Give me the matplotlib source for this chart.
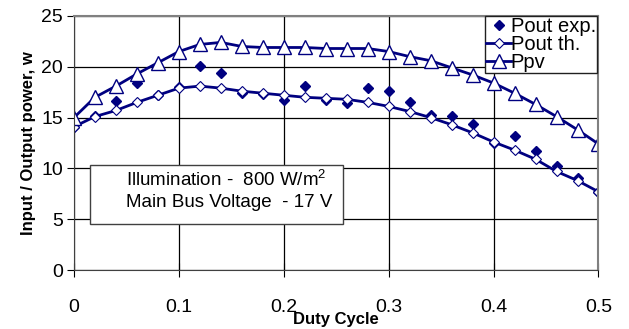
import matplotlib
matplotlib.use('Agg')
import matplotlib.pyplot as plt
from matplotlib.patches import Rectangle

plt.rcParams['font.family'] = ['Liberation Sans', 'DejaVu Sans']
plt.rcParams['mathtext.default'] = 'regular'

duty = [0.00, 0.02, 0.04, 0.06, 0.08, 0.10, 0.12, 0.14, 0.16, 0.18, 0.20, 0.22, 0.24,
        0.26, 0.28, 0.30, 0.32, 0.34, 0.36, 0.38, 0.40, 0.42, 0.44, 0.46, 0.48, 0.50]
pout_exp = [14.1, 15.2, 16.6, 18.4, 17.2, 18.0, 20.1, 19.4, 17.4, 17.3, 16.7, 18.1, 16.7,
            16.4, 17.9, 17.6, 16.5, 15.3, 15.2, 14.4, 12.5, 13.2, 11.7, 10.2, 9.1, 7.7]
pout_th = [14.1, 15.1, 15.7, 16.5, 17.2, 17.9, 18.1, 17.9, 17.6, 17.4, 17.2, 17.0, 16.9,
           16.8, 16.5, 16.1, 15.6, 15.0, 14.3, 13.5, 12.6, 11.8, 10.9, 9.7, 8.8, 7.7]
ppv = [15.0, 17.0, 18.1, 19.3, 20.4, 21.5, 22.2, 22.4, 22.0, 21.9, 21.9, 21.9, 21.8,
       21.8, 21.8, 21.5, 21.0, 20.6, 19.9, 19.2, 18.4, 17.4, 16.3, 15.1, 13.8, 12.4]

navy = '#000080'

fig = plt.figure(figsize=(6.29, 3.29), dpi=100)
ax = fig.add_axes([0.1176, 0.1793, 0.8339, 0.7721])

ax.plot(duty, pout_exp, linestyle='none', marker='D', color=navy, markersize=5.5,
        label='Pout exp.')
ax.plot(duty, pout_th, '-', color=navy, linewidth=2, marker='D', markersize=5,
        markerfacecolor='white', markeredgecolor=navy, markeredgewidth=0.8, label='Pout th.')
ax.plot(duty, ppv, '-', color=navy, linewidth=2, marker='^', markersize=10,
        markerfacecolor='white', markeredgecolor=navy, markeredgewidth=1.0, label='Ppv')

ax.set_xlim(0, 0.5)
ax.set_ylim(0, 25)
ax.set_xticks([0, 0.1, 0.2, 0.3, 0.4, 0.5])
ax.set_xticklabels(['0', '0.1', '0.2', '0.3', '0.4', '0.5'])
ax.set_yticks([0, 5, 10, 15, 20, 25])
ax.grid(True, color='black', linewidth=0.9)
ax.tick_params(axis='x', direction='inout', length=10, pad=16, labelsize=14)
ax.tick_params(axis='y', direction='out', length=5, pad=3, labelsize=14)
for side in ['top', 'right']:
    ax.spines[side].set_color('#808080')
    ax.spines[side].set_linewidth(1.5)
for side in ['left', 'bottom']:
    ax.spines[side].set_color('#404040')

ax.set_xlabel('Duty Cycle', fontsize=12, fontweight='bold', labelpad=-3)
ax.set_ylabel('Input / Output power, w', fontsize=12, fontweight='bold', labelpad=4)

leg = ax.legend(loc='upper right', bbox_to_anchor=(0.997, 1.0), fontsize=14.5,
                frameon=True, fancybox=False, edgecolor='#202020', framealpha=1,
                borderpad=0.05, labelspacing=-0.05, handlelength=1.2, handletextpad=0.0,
                borderaxespad=0.0)
leg.get_frame().set_linewidth(1.0)

# info box
ax.add_patch(Rectangle((0.03, 0.181), 0.482, 0.232, transform=ax.transAxes,
                       facecolor='white', edgecolor='#404040', linewidth=1.0, zorder=5))
ax.text(0.1, 0.355, 'Illumination -  800 W/m$^2$', transform=ax.transAxes,
        fontsize=13.5, va='center', ha='left', zorder=6)
ax.text(0.1, 0.265, 'Main Bus Voltage  - 17 V', transform=ax.transAxes,
        fontsize=13.5, va='center', ha='left', zorder=6)

fig.savefig('out.png', dpi=100)
